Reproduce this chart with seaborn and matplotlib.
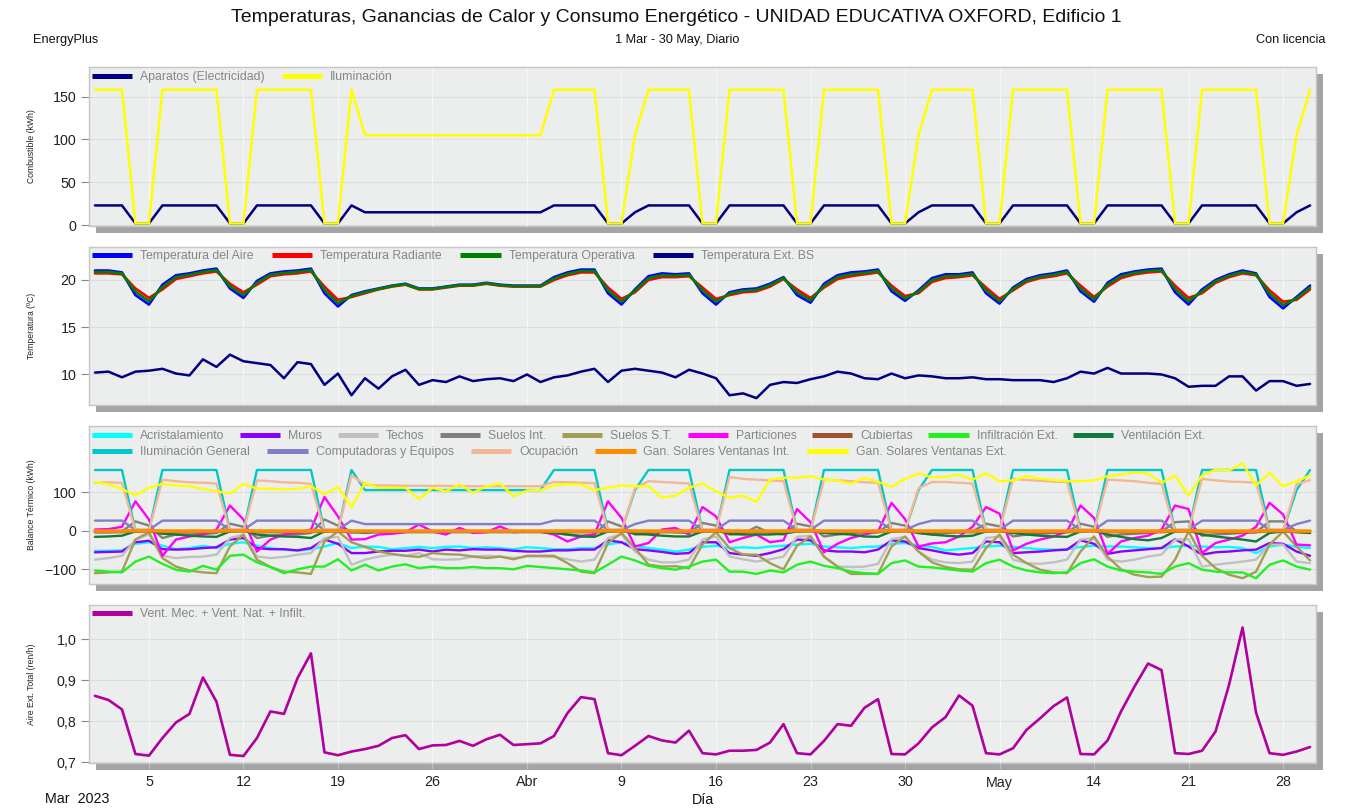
import numpy as np
import pandas as pd
import matplotlib
matplotlib.use("Agg")
import matplotlib.pyplot as plt
from matplotlib.lines import Line2D
from matplotlib.patches import Rectangle
import seaborn as sns

# ---------------- DATA ----------------
dates = pd.date_range("2023-03-01", "2023-05-30", freq="D")
month_names = {3: "Mar", 4: "Abr", 5: "May"}

# Panel 1: Combustible (kWh)
aparatos = [23, 23, 23, 2, 2, 23, 23, 23, 23, 23, 2, 2, 23, 23, 23, 23, 23, 2, 2, 23,
            15, 15, 15, 15, 15, 15, 15, 15, 15, 15, 15, 15, 15, 15,
            23, 23, 23, 23, 2, 2, 15, 23, 23, 23, 23, 2, 2, 23, 23, 23, 23, 23, 2, 2,
            23, 23, 23, 23, 23, 2, 2, 15, 23, 23, 23, 23, 2, 2, 23, 23, 23, 23, 23, 2, 2,
            23, 23, 23, 23, 23, 2, 2, 23, 23, 23, 23, 23, 2, 2, 15, 23]
iluminacion = [158, 158, 158, 2, 2, 158, 158, 158, 158, 158, 2, 2, 158, 158, 158, 158, 158, 2, 2, 158,
               105, 105, 105, 105, 105, 105, 105, 105, 105, 105, 105, 105, 105, 105,
               158, 158, 158, 158, 2, 2, 105, 158, 158, 158, 158, 2, 2, 158, 158, 158, 158, 158, 2, 2,
               158, 158, 158, 158, 158, 2, 2, 105, 158, 158, 158, 158, 2, 2, 158, 158, 158, 158, 158, 2, 2,
               158, 158, 158, 158, 158, 2, 2, 158, 158, 158, 158, 158, 2, 2, 105, 158]

# Panel 2: Temperatura (C)
t_aire = [21.0, 21.0, 20.8, 18.4, 17.4, 19.5, 20.5, 20.7, 21.0, 21.2, 19.1, 18.1, 19.9, 20.7, 20.9, 21.0,
          21.2, 18.6, 17.2, 18.4, 18.8, 19.1, 19.4, 19.6, 19.1, 19.1, 19.3, 19.5, 19.5, 19.7, 19.5, 19.4,
          19.4, 19.4, 20.3, 20.8, 21.1, 21.1, 18.6, 17.4, 19.0, 20.4, 20.7, 20.6, 20.7, 18.6, 17.4, 18.7,
          19.0, 19.1, 19.6, 20.3, 18.4, 17.6, 19.6, 20.5, 20.8, 20.9, 21.1, 18.8, 17.8, 18.9, 20.2, 20.6,
          20.6, 20.8, 18.6, 17.5, 19.2, 20.1, 20.5, 20.7, 21.0, 18.8, 17.7, 19.7, 20.6, 20.9, 21.1, 21.2,
          18.7, 17.4, 19.0, 20.0, 20.6, 21.0, 20.7, 18.2, 17.0, 18.2, 19.4]
t_radiante = [20.7, 20.7, 20.6, 19.1, 18.1, 19.0, 20.1, 20.4, 20.7, 20.9, 19.6, 18.7, 19.5, 20.4, 20.6, 20.7,
              20.9, 19.3, 17.9, 18.2, 18.6, 19.0, 19.3, 19.5, 19.0, 19.0, 19.2, 19.4, 19.4, 19.6, 19.4, 19.3,
              19.3, 19.3, 20.0, 20.5, 20.8, 20.8, 19.2, 18.0, 18.7, 20.0, 20.3, 20.3, 20.4, 19.2, 18.0, 18.4,
              18.7, 18.8, 19.3, 20.1, 19.0, 18.1, 19.2, 20.1, 20.4, 20.6, 20.8, 19.4, 18.3, 18.6, 19.8, 20.2,
              20.3, 20.5, 19.2, 18.0, 18.9, 19.8, 20.2, 20.4, 20.7, 19.4, 18.2, 19.3, 20.2, 20.6, 20.8, 20.9,
              19.4, 18.1, 18.6, 19.7, 20.3, 20.7, 20.5, 18.9, 17.7, 17.9, 19.0]
t_operativa = [20.85, 20.85, 20.7, 18.75, 17.75, 19.25, 20.3, 20.55, 20.85, 21.05, 19.35, 18.4, 19.7, 20.55,
               20.75, 20.85, 21.05, 18.95, 17.55, 18.3, 18.7, 19.05, 19.35, 19.55, 19.05, 19.05, 19.25, 19.45,
               19.45, 19.65, 19.45, 19.35, 19.35, 19.35, 20.15, 20.65, 20.95, 20.95, 18.9, 17.7, 18.85, 20.2,
               20.5, 20.45, 20.55, 18.9, 17.7, 18.55, 18.85, 18.95, 19.45, 20.2, 18.7, 17.85, 19.4, 20.3, 20.6,
               20.75, 20.95, 19.1, 18.05, 18.75, 20.0, 20.4, 20.45, 20.65, 18.9, 17.75, 19.05, 19.95, 20.35,
               20.55, 20.85, 19.1, 17.95, 19.5, 20.4, 20.75, 20.95, 21.05, 19.05, 17.75, 18.8, 19.85, 20.45,
               20.85, 20.6, 18.55, 17.35, 18.05, 19.2]
t_ext = [10.2, 10.3, 9.7, 10.3, 10.4, 10.6, 10.1, 9.9, 11.6, 10.8, 12.1, 11.4, 11.2, 11.0, 9.6, 11.3, 11.1,
         8.9, 10.1, 7.8, 9.6, 8.5, 9.8, 10.5, 8.9, 9.4, 9.2, 9.8, 9.3, 9.5, 9.6, 9.3, 10.0, 9.2, 9.7, 9.9,
         10.3, 10.6, 9.2, 10.4, 10.6, 10.4, 10.2, 9.7, 10.5, 10.1, 9.6, 7.8, 8.0, 7.5, 8.9, 9.2, 9.1, 9.5,
         9.8, 10.3, 10.1, 9.6, 9.5, 10.1, 9.6, 9.9, 9.8, 9.6, 9.6, 9.7, 9.5, 9.5, 9.4, 9.4, 9.4, 9.2, 9.6,
         10.3, 10.1, 10.7, 10.1, 10.1, 10.1, 10.0, 9.6, 8.7, 8.8, 8.8, 9.8, 9.8, 8.3, 9.3, 9.3, 8.8, 9.0]

# Panel 3: Balance Termico (kWh)
acristalamiento = [-52, -52, -51, -34, -30, -39, -48, -45, -39, -45, -34, -30, -39, -45, -49, -52, -48, -41, -32,
                   -45, -41, -42, -48, -45, -42, -45, -42, -41, -45, -43, -45, -48, -43, -45, -48, -48, -45, -45,
                   -36, -30, -39, -45, -49, -54, -49, -42, -39, -45, -43, -45, -41, -39, -36, -34, -41, -43, -45,
                   -42, -41, -34, -32, -39, -42, -51, -48, -45, -41, -39, -42, -45, -48, -49, -48, -42, -39, -41,
                   -41, -43, -45, -45, -41, -39, -41, -43, -42, -45, -58, -41, -36, -42, -45]
muros = [-56, -55, -54, -30, -26, -48, -49, -48, -45, -43, -23, -19, -45, -48, -48, -51, -45, -23, -34, -58, -58,
         -54, -52, -52, -49, -54, -49, -51, -48, -49, -49, -52, -54, -54, -51, -51, -49, -49, -25, -30, -48, -51,
         -55, -60, -58, -30, -30, -58, -62, -65, -58, -48, -23, -25, -51, -54, -54, -56, -49, -25, -28, -45, -51,
         -58, -62, -58, -28, -30, -58, -56, -54, -51, -49, -25, -34, -60, -54, -51, -48, -45, -22, -41, -62, -56,
         -54, -51, -49, -32, -34, -54, -65]
techos = [-75, -71, -65, -23, -10, -65, -71, -68, -67, -62, -19, -10, -67, -71, -68, -62, -58, -19, -16, -88, -75,
          -67, -62, -65, -58, -74, -75, -74, -67, -65, -67, -71, -67, -67, -68, -74, -80, -75, -19, -10, -54, -75,
          -82, -82, -75, -23, -15, -67, -74, -80, -74, -67, -16, -13, -68, -93, -94, -93, -86, -22, -16, -54, -75,
          -82, -84, -80, -19, -15, -75, -84, -86, -82, -75, -23, -19, -75, -80, -75, -67, -62, -23, -22, -93, -88,
          -84, -80, -75, -36, -36, -80, -84]
suelos_int = [-4, -4, -2, 24, 13, -19, -10, -10, -9, -6, 18, 10, -19, -13, -10, -10, -6, 29, 13, -2, -6, -4, -4, -4,
              -4, -4, -4, -4, -4, -4, -4, -4, -4, -4, -6, -10, -13, -10, 24, 11, -10, -8, -2, -4, -6, 20, 13, -10,
              -8, 10, -6, -10, 18, 11, -15, -10, -6, -4, -4, 20, 13, -6, -10, -6, -4, -2, 18, 11, -15, -10, -8, -6,
              -4, 18, 10, -16, -10, -8, -6, -2, 22, 24, -13, -10, -8, -6, -4, 24, 24, -2, -6]
suelos_st = [-110, -108, -106, -23, -4, -71, -93, -103, -108, -110, -41, -10, -75, -94, -106, -108, -112, -28, -2,
             -30, -42, -54, -60, -65, -68, -58, -61, -62, -67, -71, -67, -74, -65, -65, -65, -84, -106, -110, -32,
             -6, -45, -88, -93, -92, -97, -36, -4, -45, -62, -62, -84, -100, -39, -15, -67, -93, -112, -112, -112,
             -41, -15, -54, -82, -94, -100, -101, -45, -10, -62, -84, -101, -108, -110, -54, -15, -67, -100, -114,
             -120, -119, -75, -2, -65, -97, -114, -123, -106, -36, -2, -41, -77]
particiones = [3, 4, 10, 76, 29, -65, -23, -15, -10, 3, 65, 29, -54, -23, -10, -6, 3, 87, 37, -23, -22, -10, -8, -4,
               16, -2, -10, 7, -6, -4, 11, -4, -2, -2, -10, -28, -15, -10, 76, 33, -41, -32, 3, 7, -10, 61, 37, -30,
               -19, -10, -30, -25, 56, 22, -56, -34, -19, -10, -2, 72, 30, -41, -33, -30, -15, 10, 61, 44, -51, -34,
               -23, -15, -2, 65, 33, -60, -28, -19, -13, 3, 65, 56, -58, -32, -23, -13, 10, 72, 42, -36, -38]
cubiertas = [-4, -4, -4, -2, -2, -4, -4, -4, -4, -4, -2, -2, -4, -4, -4, -4, -4, -2, -2, -4,
             -3, -3, -3, -3, -3, -3, -3, -3, -3, -3, -3, -3, -3, -3,
             -4, -4, -4, -4, -2, -2, -3, -4, -4, -4, -4, -2, -2, -4, -4, -4, -4, -4, -2, -2,
             -4, -4, -4, -4, -4, -2, -2, -3, -4, -4, -4, -4, -2, -2, -4, -4, -4, -4, -4, -2, -2,
             -4, -4, -4, -4, -4, -2, -2, -4, -4, -4, -4, -4, -2, -2, -3, -4]
infiltracion = [-103, -106, -108, -80, -67, -86, -101, -106, -91, -101, -65, -62, -82, -94, -110, -100, -93, -93,
                -74, -103, -88, -103, -93, -87, -97, -93, -97, -97, -94, -97, -97, -100, -91, -94, -97, -100, -103,
                -108, -88, -67, -77, -91, -97, -101, -93, -80, -75, -106, -106, -112, -103, -108, -88, -80, -91,
                -97, -106, -110, -112, -84, -77, -93, -95, -99, -103, -106, -84, -75, -93, -103, -108, -110, -108,
                -84, -74, -93, -103, -106, -108, -112, -93, -84, -101, -106, -108, -108, -123, -88, -77, -93, -101]
ventilacion = [-16, -15, -13, -2, 0, -8, -10, -13, -15, -16, -2, 0, -10, -13, -15, -16, -19, -2, 0, -4, -4, -3, -3,
               -3, -3, -3, -3, -3, -3, -3, -3, -3, -3, -3, -6, -10, -15, -16, -2, 0, -8, -10, -13, -15, -15, -2, 0,
               -8, -10, -10, -10, -8, -2, 0, -6, -8, -10, -15, -16, -2, 0, -6, -10, -13, -15, -13, -2, 0, -6, -10,
               -13, -15, -16, -2, 0, -10, -16, -22, -25, -19, -2, 0, -10, -15, -19, -23, -28, -6, -2, -4, -6]
ilum_general = [157, 157, 157, 0, 0, 157, 157, 157, 157, 157, 0, 0, 157, 157, 157, 157, 157, 0, 0, 157,
                105, 105, 105, 105, 105, 105, 105, 105, 105, 105, 105, 105, 105, 105,
                157, 157, 157, 157, 0, 0, 105, 157, 157, 157, 157, 0, 0, 157, 157, 157, 157, 157, 0, 0,
                157, 157, 157, 157, 157, 0, 0, 105, 157, 157, 157, 157, 0, 0, 157, 157, 157, 157, 157, 0, 0,
                157, 157, 157, 157, 157, 0, 0, 157, 157, 157, 157, 157, 0, 0, 105, 157]
computadoras = [26, 26, 26, 2, 2, 26, 26, 26, 26, 26, 2, 2, 26, 26, 26, 26, 26, 2, 2, 26,
                17, 17, 17, 17, 17, 17, 17, 17, 17, 17, 17, 17, 17, 17,
                26, 26, 26, 26, 2, 2, 17, 26, 26, 26, 26, 2, 2, 26, 26, 26, 26, 26, 2, 2,
                26, 26, 26, 26, 26, 2, 2, 17, 26, 26, 26, 26, 2, 2, 26, 26, 26, 26, 26, 2, 2,
                26, 26, 26, 26, 26, 2, 2, 26, 26, 26, 26, 26, 2, 2, 17, 26]
ocupacion = [124, 125, 124, 0, 0, 132, 128, 125, 124, 122, 0, 0, 130, 128, 125, 124, 121, 0, 0, 143, 119, 117,
             117, 116, 116, 116, 116, 115, 115, 115, 115, 115, 115, 115, 126, 125, 124, 123, 0, 0, 110, 128, 126,
             124, 122, 0, 0, 139, 134, 132, 130, 128, 0, 0, 132, 130, 128, 125, 124, 0, 0, 110, 126, 126, 124,
             122, 0, 0, 134, 131, 129, 127, 126, 0, 0, 132, 130, 128, 124, 121, 0, 0, 134, 130, 127, 126, 124, 0,
             0, 120, 131]
solar_int = [-1, -1, -1, 0, 0, -1, -1, -1, -1, -1, 0, 0, -1, -1, -1, -1, -1, 0, 0, -1,
             -1, -1, -1, -1, -1, -1, -1, -1, -1, -1, -1, -1, -1, -1,
             -1, -1, -1, -1, 0, 0, -1, -1, -1, -1, -1, 0, 0, -1, -1, -1, -1, -1, 0, 0,
             -1, -1, -1, -1, -1, 0, 0, -1, -1, -1, -1, -1, 0, 0, -1, -1, -1, -1, -1, 0, 0,
             -1, -1, -1, -1, -1, 0, 0, -1, -1, -1, -1, -1, 0, 0, -1, -1]
solar_ext = [126, 120, 108, 91, 111, 121, 117, 115, 108, 102, 96, 121, 109, 108, 107, 108, 115, 94, 113, 61, 124,
             111, 111, 111, 82, 111, 102, 120, 98, 115, 122, 89, 104, 105, 117, 120, 120, 105, 111, 117, 115, 115,
             85, 91, 111, 122, 102, 85, 91, 74, 132, 137, 137, 141, 132, 130, 121, 137, 126, 113, 134, 148, 138,
             139, 145, 132, 148, 128, 130, 141, 134, 131, 128, 128, 130, 141, 145, 150, 148, 124, 143, 91, 143,
             158, 156, 174, 117, 150, 115, 128, 143]

# Panel 4: Aire Ext. Total (ren/h)
aire_ext = [0.862, 0.852, 0.829, 0.720, 0.716, 0.759, 0.797, 0.818, 0.907, 0.848, 0.718, 0.715, 0.759, 0.824,
            0.818, 0.905, 0.966, 0.724, 0.717, 0.726, 0.732, 0.740, 0.759, 0.766, 0.732, 0.741, 0.742, 0.752,
            0.740, 0.756, 0.767, 0.742, 0.744, 0.746, 0.764, 0.820, 0.859, 0.854, 0.722, 0.717, 0.740, 0.764,
            0.753, 0.748, 0.777, 0.722, 0.719, 0.728, 0.728, 0.730, 0.748, 0.793, 0.722, 0.719, 0.752, 0.793,
            0.789, 0.833, 0.854, 0.720, 0.719, 0.746, 0.785, 0.810, 0.863, 0.838, 0.722, 0.719, 0.734, 0.779,
            0.807, 0.837, 0.858, 0.720, 0.719, 0.753, 0.824, 0.885, 0.941, 0.925, 0.722, 0.720, 0.728, 0.775,
            0.889, 1.029, 0.821, 0.722, 0.718, 0.726, 0.737]

n = len(dates)
for arr in [aparatos, iluminacion, t_aire, t_radiante, t_operativa, t_ext, acristalamiento, muros, techos,
            suelos_int, suelos_st, particiones, cubiertas, infiltracion, ventilacion, ilum_general,
            computadoras, ocupacion, solar_int, solar_ext, aire_ext]:
    assert len(arr) == n, len(arr)

# ---------------- STYLE ----------------
sns.set_theme(style="white")
plt.rcParams["font.family"] = ["Liberation Sans", "DejaVu Sans"]

W, H = 1352, 809
fig = plt.figure(figsize=(W / 100, H / 100), dpi=100)
fig.patch.set_facecolor("white")

L, R = 89, 1316
panels_px = [(67, 226), (247, 405), (426, 584), (605, 763)]
days = np.arange(n)

sundays = [i for i, d in enumerate(dates) if d.dayofweek == 6]
tick_labels = []
prev_month = dates[0].month
for i in sundays:
    d = dates[i]
    if d.month != prev_month:
        tick_labels.append(month_names[d.month])
        prev_month = d.month
    else:
        tick_labels.append(str(d.day))

axes = []
for (t, b) in panels_px:
    fig.add_artist(Rectangle(((L + 7) / W, 1 - (b + 7) / H), (R - L) / W, (b - t) / H,
                             transform=fig.transFigure, facecolor="#A4A4A4", edgecolor="none", zorder=-5))
    ax = fig.add_axes([L / W, 1 - b / H, (R - L) / W, (b - t) / H])
    ax.set_facecolor("#ECEEEE")
    for s in ax.spines.values():
        s.set_color("#C6C6C6")
        s.set_linewidth(1.0)
    axes.append(ax)


def draw(ax, y, color, lw, z=2):
    sns.lineplot(x=days, y=y, ax=ax, color=color, linewidth=lw, legend=False, zorder=z)


def legend_row(ax, items, y_px, panel_top, panel_h, add=False, colsp=1.4):
    handles = [Line2D([0], [0], color=c, lw=3.6, solid_capstyle="butt") for _, c in items]
    labels = [lbl for lbl, _ in items]
    leg = ax.legend(handles, labels, loc="upper left",
                    bbox_to_anchor=(3 / (R - L), 1 - (y_px - panel_top) / panel_h),
                    ncol=len(items), frameon=False, fontsize=8.8, handlelength=3.3,
                    handletextpad=0.65, columnspacing=colsp, borderaxespad=0, borderpad=0,
                    labelcolor="#858585")
    if add:
        ax.add_artist(leg)
    return leg


# Panel 1
ax = axes[0]
draw(ax, aparatos, "#000080", 1.8)
draw(ax, iluminacion, "#FFFF00", 1.8)
ax.set_ylim(-1, 184.5)
ax.set_yticks([0, 50, 100, 150])
legend_row(ax, [("Aparatos (Electricidad)", "#000080"), ("Iluminación", "#FFFF00")], 71, 67, 159)

# Panel 2
ax = axes[1]
draw(ax, t_aire, "#0000FF", 1.9)
draw(ax, t_radiante, "#FF0000", 1.9)
draw(ax, t_operativa, "#008000", 1.9)
draw(ax, t_ext, "#000080", 1.8)
ax.set_ylim(6.77, 23.49)
ax.set_yticks([10, 15, 20])
legend_row(ax, [("Temperatura del Aire", "#0000FF"), ("Temperatura Radiante", "#FF0000"),
                ("Temperatura Operativa", "#008000"), ("Temperatura Ext. BS", "#000080")], 250, 247, 158,
           colsp=1.5)

# Panel 3
ax = axes[2]
bal_row1 = [("Acristalamiento", "#00FFFF", acristalamiento), ("Muros", "#8C00FF", muros),
            ("Techos", "#C0C0C0", techos), ("Suelos Int.", "#808080", suelos_int),
            ("Suelos S.T.", "#A39E55", suelos_st), ("Particiones", "#FF00FF", particiones),
            ("Cubiertas", "#A0522D", cubiertas), ("Infiltración Ext.", "#22F022", infiltracion),
            ("Ventilación Ext.", "#107A3A", ventilacion)]
bal_row2 = [("Iluminación General", "#00C8C8", ilum_general), ("Computadoras y Equipos", "#8080C8", computadoras),
            ("Ocupación", "#F2B896", ocupacion), ("Gan. Solares Ventanas Int.", "#FF8C00", solar_int),
            ("Gan. Solares Ventanas Ext.", "#FFFF00", solar_ext)]
for lbl, c, y in bal_row1:
    draw(ax, y, c, 1.7)
for lbl, c, y in bal_row2:
    draw(ax, y, c, 2.6 if "Int." in lbl else 1.7)
ax.set_ylim(-138, 270.8)
ax.set_yticks([-100, 0, 100])
legend_row(ax, [(l, c) for l, c, _ in bal_row1], 430, 426, 158, add=True, colsp=1.26)
legend_row(ax, [(l, c) for l, c, _ in bal_row2], 446, 426, 158)

# Panel 4
ax = axes[3]
draw(ax, aire_ext, "#B0009E", 1.9)
ax.set_ylim(0.698, 1.084)
ax.set_yticks([0.7, 0.8, 0.9, 1.0])
ax.set_yticklabels(["0,7", "0,8", "0,9", "1,0"])
legend_row(ax, [("Vent. Mec. + Vent. Nat. + Infilt.", "#B0009E")], 608, 605, 158)

ylabels = ["Combustible (kWh)", "Temperatura (ºC)", "Balance Térmico (kWh)", "Aire Ext. Total (ren/h)"]
for i, ax in enumerate(axes):
    ax.set_xlim(-0.44, n - 1 + 0.44)
    ax.set_xticks(sundays)
    ax.grid(False)
    for yt in ax.get_yticks():
        ax.axhline(yt, color="#DADDDD", lw=0.8, zorder=0.5)
    for xt in sundays:
        ax.axvline(xt, color="#F6F7F7", lw=0.8, zorder=0.5)
    ax.tick_params(axis="y", which="major", left=True, length=6, width=0.8, color="#8A8A8A",
                   labelsize=10.3, labelcolor="#222222", pad=3)
    ax.set_ylabel("")
    ax.set_xlabel("")
    if i < 3:
        ax.tick_params(axis="x", bottom=False, labelbottom=False)
    else:
        ax.set_xticklabels(tick_labels)
        ax.tick_params(axis="x", bottom=True, length=4, width=0.8, color="#C0C0C0",
                       labelsize=10.3, labelcolor="#222222", pad=5)
    t, b = panels_px[i]
    fig.text(32 / W, 1 - ((t + b) / 2) / H, ylabels[i], rotation=90, fontsize=6.2,
             ha="center", va="center", color="#222222")

# Header / footer text
fig.text(676 / W, 1 - 18 / H, "Temperaturas, Ganancias de Calor y Consumo Energético - UNIDAD EDUCATIVA OXFORD, Edificio 1",
         ha="center", va="center", fontsize=14, color="#111111")
fig.text(33 / W, 1 - 40 / H, "EnergyPlus", ha="left", va="center", fontsize=9.2, color="#111111")
fig.text(677 / W, 1 - 40 / H, "1 Mar - 30 May, Diario", ha="center", va="center", fontsize=9.2, color="#111111")
fig.text(1325 / W, 1 - 40 / H, "Con licencia", ha="right", va="center", fontsize=9.2, color="#111111")
fig.text(45 / W, 1 - 799 / H, "Mar  2023", ha="left", va="center", fontsize=10.3, color="#111111")
fig.text(703 / W, 1 - 800 / H, "Día", ha="center", va="center", fontsize=10.3, color="#111111")

fig.savefig("out.png", dpi=100, facecolor="white")
